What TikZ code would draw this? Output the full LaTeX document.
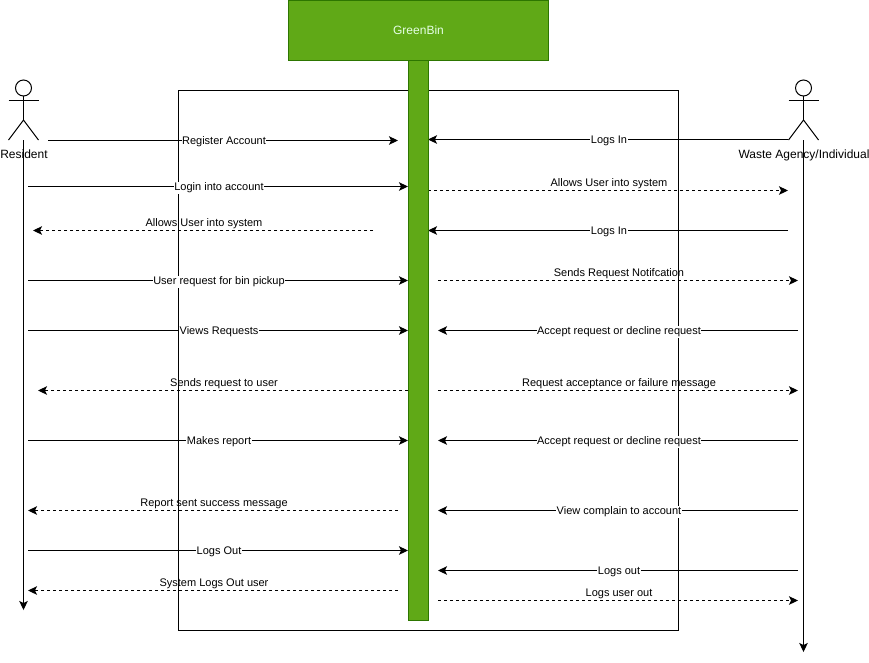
\documentclass[tikz,border=0pt]{standalone}
\usepackage{fontspec}
\setmainfont{Liberation Sans}
\usetikzlibrary{arrows.meta}
\definecolor{binfill}{HTML}{60A917}
\definecolor{binline}{HTML}{2D7600}
\tikzset{
  msg/.style={-{Stealth[length=9pt, width=8.5pt, inset=2pt]}, line width=1pt},
  reply/.style={msg, dash pattern=on 3pt off 3pt},
  onlabel/.style={midway, xshift=1pt, yshift=-1.5pt, fill=white, inner sep=0.5pt, font=\fontsize{11}{13}\selectfont},
  overlabel/.style={midway, xshift=1pt, yshift=6.5pt, inner sep=0.5pt, font=\fontsize{11}{13}\selectfont},
  actorlabel/.style={inner sep=0pt, font=\fontsize{12}{14}\selectfont},
  bin/.style={draw=binline, fill=binfill, line width=1pt, inner sep=0pt, outer sep=0pt}
}
\begin{document}
\begin{tikzpicture}[x=1pt, y=-1pt]
  \useasboundingbox (0, 0) rectangle (869, 662);

  \node (sysbox) [draw, line width=1pt, minimum width=500pt, minimum height=540pt, inner sep=0pt] at (428.5, 360.5) {};

  % resident
  \coordinate (resneck) at (23.5, 96);
  \coordinate (reship) at (23.5, 120);
  \coordinate (resfoot) at (23.5, 140);
  \coordinate (resend) at (23.5, 610);
  \draw [line width=1pt] (23.5, 88) circle [radius=8];
  \draw [line width=1pt] (resneck) -- (reship);
  \draw [line width=1pt] (8.5, 100.5) -- (38.5, 100.5);
  \draw [line width=1pt] (8.5, 140) -- (reship) -- (38.5, 140);
  \node (resident) [actorlabel] at (24, 154.5) {Resident};
  \draw [msg] (resfoot) -- (resend);

  % waste agency
  \coordinate (agneck) at (803.5, 96);
  \coordinate (aghip) at (803.5, 120);
  \coordinate (agfoot) at (803.5, 140);
  \coordinate (agend) at (803.5, 652);
  \draw [line width=1pt] (803.5, 88) circle [radius=8];
  \draw [line width=1pt] (agneck) -- (aghip);
  \draw [line width=1pt] (788.5, 100.5) -- (818.5, 100.5);
  \draw [line width=1pt] (788.5, 140) -- (aghip) -- (818.5, 140);
  \node (agency) [actorlabel] at (804, 155) {Waste Agency/Individual};
  \draw [msg] (agfoot) -- (agend);

  % left side
  \coordinate (la) at (48, 140.5); \coordinate (lb) at (398, 140.5);
  \draw [msg] (la) -- node [onlabel] {Register Account} (lb);
  \coordinate (lc) at (28, 186.5); \coordinate (ld) at (408, 186.5);
  \draw [msg] (lc) -- node [onlabel] {Login into account} (ld);
  \coordinate (le) at (373, 230.5); \coordinate (lf) at (33, 230.5);
  \draw [reply] (le) -- node [overlabel] {Allows User into system} (lf);
  \coordinate (lg) at (28, 280.5); \coordinate (lh) at (408, 280.5);
  \draw [msg] (lg) -- node [onlabel] {User request for bin pickup} (lh);
  \coordinate (li) at (28, 330.5); \coordinate (lj) at (408, 330.5);
  \draw [msg] (li) -- node [onlabel] {Views Requests} (lj);
  \coordinate (lk) at (408, 390.5); \coordinate (ll) at (38, 390.5);
  \draw [reply] (lk) -- node [overlabel] {Sends request to user} (ll);
  \coordinate (lm) at (28, 440.5); \coordinate (ln) at (408, 440.5);
  \draw [msg] (lm) -- node [onlabel] {Makes report} (ln);
  \coordinate (lo) at (398, 510.5); \coordinate (lp) at (28, 510.5);
  \draw [reply] (lo) -- node [overlabel] {Report sent success message} (lp);
  \coordinate (lq) at (28, 550.5); \coordinate (lr) at (408, 550.5);
  \draw [msg] (lq) -- node [onlabel] {Logs Out} (lr);
  \coordinate (ls) at (398, 590.5); \coordinate (lt) at (28, 590.5);
  \draw [reply] (ls) -- node [overlabel] {System Logs Out user} (lt);

  % right side
  \coordinate (ra) at (788, 139.5); \coordinate (rb) at (428, 139.5);
  \draw [msg] (ra) -- node [onlabel] {Logs In} (rb);
  \coordinate (rc) at (428, 190.5); \coordinate (rd) at (788, 190.5);
  \draw [reply] (rc) -- node [overlabel] {Allows User into system} (rd);
  \coordinate (re) at (788, 230.5); \coordinate (rf) at (428, 230.5);
  \draw [msg] (re) -- node [onlabel] {Logs In} (rf);
  \coordinate (rg) at (438, 280.5); \coordinate (rh) at (798, 280.5);
  \draw [reply] (rg) -- node [overlabel] {Sends Request Notifcation} (rh);
  \coordinate (ri) at (798, 330.5); \coordinate (rj) at (438, 330.5);
  \draw [msg] (ri) -- node [onlabel] {Accept request or decline request} (rj);
  \coordinate (rk) at (438, 390.5); \coordinate (rl) at (798, 390.5);
  \draw [reply] (rk) -- node [overlabel] {Request acceptance or failure message} (rl);
  \coordinate (rm) at (798, 440.5); \coordinate (rn) at (438, 440.5);
  \draw [msg] (rm) -- node [onlabel] {Accept request or decline request} (rn);
  \coordinate (ro) at (798, 510.5); \coordinate (rp) at (438, 510.5);
  \draw [msg] (ro) -- node [onlabel] {View complain to account} (rp);
  \coordinate (rq) at (798, 570.5); \coordinate (rr) at (438, 570.5);
  \draw [msg] (rq) -- node [onlabel] {Logs out} (rr);
  \coordinate (rs) at (438, 600.5); \coordinate (rt) at (798, 600.5);
  \draw [reply] (rs) -- node [overlabel] {Logs user out} (rt);

  % system
  \node (bar) [bin, minimum width=20pt, minimum height=560pt] at (418.5, 340.5) {};
  \node (greenbin) [bin, minimum width=260pt, minimum height=60pt, text=white!90!green, font=\fontsize{12}{14}\selectfont] at (418.5, 30.5) {GreenBin};
\end{tikzpicture}
\end{document}
